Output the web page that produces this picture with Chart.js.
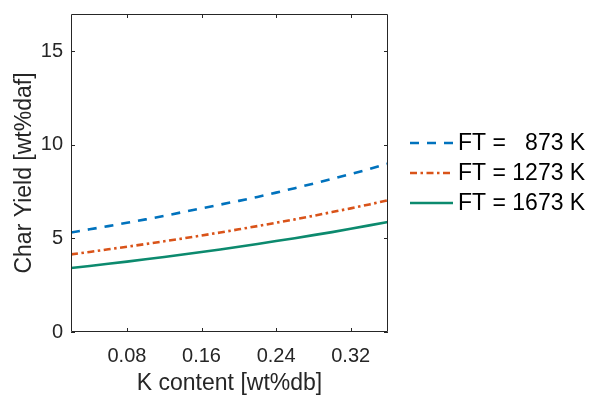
<!DOCTYPE html>
<html>
<head>
<meta charset="utf-8">
<script src="https://cdn.jsdelivr.net/npm/chart.js@4"></script>
<style>
  html, body { margin: 0; padding: 0; background: #fff; }
  #wrap { width: 592px; height: 395px; }
</style>
</head>
<body>
<div id="wrap"><canvas id="myChart" width="592" height="395"></canvas></div>
<script>
// K content [wt%db]
const kContent = [0.02, 0.04, 0.06, 0.08, 0.10, 0.12, 0.14, 0.16, 0.18, 0.20, 0.22, 0.24, 0.26, 0.28, 0.30, 0.32, 0.34, 0.36];
// char yield [wt%daf] per final temperature
const ft873  = [5.32, 5.49, 5.66, 5.84, 6.02, 6.21, 6.41, 6.61, 6.81, 7.01, 7.22, 7.45, 7.69, 7.93, 8.18, 8.44, 8.71, 9.00];
const ft1273 = [4.15, 4.28, 4.42, 4.56, 4.70, 4.85, 5.00, 5.16, 5.32, 5.49, 5.66, 5.84, 6.02, 6.21, 6.41, 6.61, 6.82, 7.04];
const ft1673 = [3.42, 3.53, 3.65, 3.76, 3.89, 4.01, 4.14, 4.28, 4.41, 4.56, 4.70, 4.86, 5.01, 5.18, 5.34, 5.52, 5.70, 5.88];
const seriesNames = ['FT =   873 K', 'FT = 1273 K', 'FT = 1673 K'];
const xTicks = [0.08, 0.16, 0.24, 0.32];
const yTicks = [0, 5, 10, 15];

const font = "'Liberation Sans', Arial, Helvetica, sans-serif";
const axisCol = '#262626';

const pts = ys => ys.map((y, i) => ({ x: kContent[i], y: y }));

// box round the plot + inward ticks on all four sides (matlab style)
const frame = {
    id: 'frame',
    afterDatasetsDraw(chart) {
        const { ctx, chartArea: a, scales: { x, y } } = chart;
        const tl = 4;
        ctx.save();
        ctx.strokeStyle = axisCol;
        ctx.lineWidth = 1;
        ctx.beginPath();
        ctx.rect(Math.round(a.left) + 0.5, Math.round(a.top) + 0.5, Math.round(a.width) - 1, Math.round(a.height) - 1);
        xTicks.forEach(v => {
            const px = Math.round(x.getPixelForValue(v)) + 0.5;
            ctx.moveTo(px, a.bottom); ctx.lineTo(px, a.bottom - tl);
            ctx.moveTo(px, a.top); ctx.lineTo(px, a.top + tl);
        });
        yTicks.forEach(v => {
            const py = Math.round(y.getPixelForValue(v)) + 0.5;
            ctx.moveTo(a.left, py); ctx.lineTo(a.left + tl, py);
            ctx.moveTo(a.right, py); ctx.lineTo(a.right - tl, py);
        });
        ctx.stroke();
        ctx.restore();
    }
};

// legend to the right of the axes, built from the datasets
const sideLegend = {
    id: 'sideLegend',
    afterDraw(chart) {
        const { ctx, chartArea: a } = chart;
        const sets = chart.data.datasets;
        const rowH = 30;
        const cy = (a.top + a.bottom) / 2 - rowH * (sets.length - 1) / 2;
        const x0 = a.right + 22, lineW = 43, gap = 5;
        ctx.save();
        ctx.font = '23px ' + font;
        ctx.textBaseline = 'middle';
        ctx.textAlign = 'left';
        sets.forEach((ds, i) => {
            const yy = cy + i * rowH;
            ctx.beginPath();
            ctx.strokeStyle = ds.borderColor;
            ctx.lineWidth = ds.borderWidth;
            ctx.setLineDash(ds.borderDash || []);
            ctx.moveTo(x0, yy);
            ctx.lineTo(x0 + lineW, yy);
            ctx.stroke();
            ctx.setLineDash([]);
            ctx.fillStyle = '#000';
            ctx.fillText(ds.label, x0 + lineW + gap, yy + 1);
        });
        ctx.restore();
    }
};

const ctx = document.getElementById('myChart');
new Chart(ctx, {
    type: 'line',
    data: {
        datasets: [
            { label: seriesNames[0], data: pts(ft873), borderColor: '#0072BD', borderDash: [9, 8], borderWidth: 2.6 },
            { label: seriesNames[1], data: pts(ft1273), borderColor: '#D95319', borderDash: [7, 3.5, 2.5, 3.5], borderWidth: 2.6 },
            { label: seriesNames[2], data: pts(ft1673), borderColor: '#0C8A6E', borderWidth: 2.6 }
        ]
    },
    options: {
        responsive: false,
        animation: false,
        layout: { padding: { top: 14, right: 204, bottom: -2, left: 0 } },
        elements: { point: { radius: 0 }, line: { tension: 0, borderCapStyle: 'butt' } },
        plugins: {
            tooltip: { enabled: false },
            legend: { display: false }
        },
        scales: {
            x: {
                type: 'linear',
                min: 0.02,
                max: 0.36,
                afterBuildTicks: s => { s.ticks = xTicks.map(v => ({ value: v })); },
                afterFit: s => { s.height = 65; s.paddingLeft = 0; s.paddingRight = 0; },
                grid: { display: false, drawTicks: false },
                border: { display: false },
                ticks: { color: axisCol, padding: 12, font: { family: font, size: 20 }, callback: v => v.toFixed(2) },
                title: { display: true, text: 'K content [wt%db]', color: axisCol, padding: { top: 0, bottom: 0 }, font: { family: font, size: 23 } }
            },
            y: {
                min: 0,
                max: 17,
                afterBuildTicks: s => { s.ticks = yTicks.map(v => ({ value: v })); },
                afterFit: s => { s.width = 71; s.paddingTop = 0; s.paddingBottom = 0; },
                grid: { display: false, drawTicks: false },
                border: { display: false },
                ticks: { color: axisCol, padding: 8, font: { family: font, size: 20 } },
                title: { display: true, text: 'Char Yield [wt%daf]', color: axisCol, padding: { top: 11, bottom: 0 }, font: { family: font, size: 23 } }
            }
        }
    },
    plugins: [frame, sideLegend]
});
</script>
</body>
</html>
